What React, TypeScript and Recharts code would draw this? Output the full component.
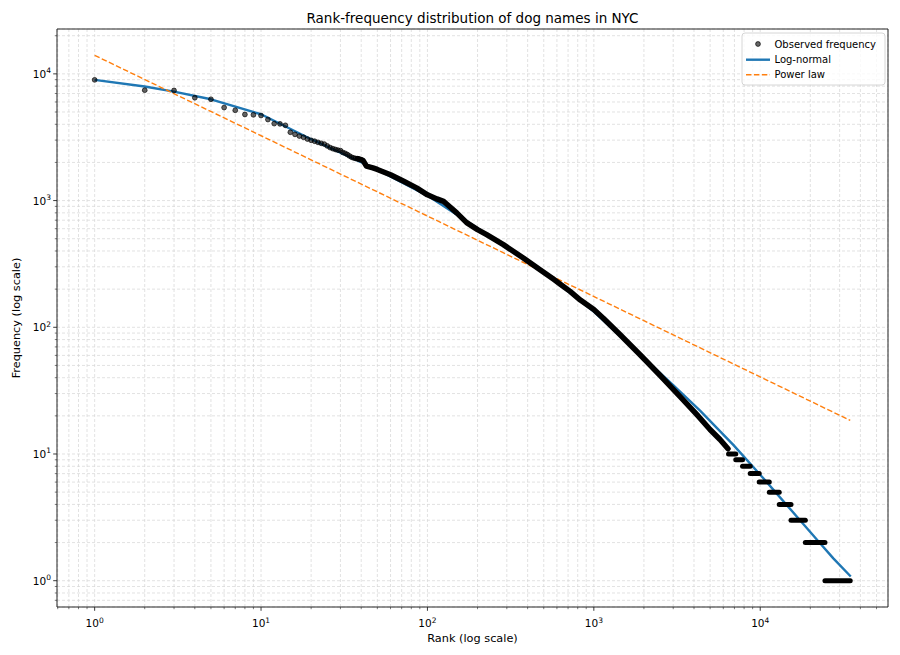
import {
  ComposedChart, XAxis, YAxis, CartesianGrid, Line, Scatter, ReferenceArea,
} from "recharts";

// ── Observed frequency: the sparse head, one dot per rank ─────────
const HEAD_RANKS = [
  1, 2, 3, 4, 5, 6, 7, 8, 9, 10, 11, 12, 13, 14, 15, 16, 17, 18, 19, 20,
  21, 22, 23, 24, 25, 26, 27, 28, 29, 30, 31, 32, 33, 34, 35, 36, 37, 38, 39, 40,
];
const HEAD_FREQ = [
  8970, 7430, 7400, 6480, 6300, 5420, 5160, 4780, 4750, 4690,
  4360, 4050, 4030, 3925, 3460, 3330, 3230, 3160, 3060, 2990,
  2940, 2880, 2830, 2790, 2700, 2620, 2570, 2530, 2500, 2480,
  2400, 2360, 2310, 2250, 2200, 2170, 2150, 2140, 2120, 2100,
];

// ── Observed frequency: dense middle, where the dots merge ────────
const BODY_RANKS = [
  38, 41, 43, 47, 50, 60, 72, 86, 100, 114, 125, 131, 150, 172, 200, 227,
  286, 377, 475, 571, 626, 720, 830, 1000, 1140, 1430, 1890, 2490, 3290,
  4150, 4990, 5730, 6400,
];
const BODY_FREQ = [
  2140, 2080, 1870, 1810, 1760, 1600, 1420, 1260, 1110, 1030, 985, 935, 800, 670, 590, 538,
  449, 352, 284, 240, 220, 192, 164, 138, 118, 88, 61, 42, 28.5,
  20.5, 15.6, 13, 11,
];

// ── Observed frequency: integer-count tail, runs of equal frequency ─
const TAIL_FREQ  = [10, 9, 8, 7, 6, 5, 4, 3, 2, 1];
const TAIL_FIRST = [6450, 7130, 7830, 8710, 9860, 11340, 13010, 15310, 18670, 24490];
const TAIL_LAST  = [7130, 7830, 8710, 9860, 11340, 13010, 15310, 18670, 24490, 34750];

// ── Fitted curves ─────────────────────────────────────────────────
const LOGNORM_RANKS = [
  1, 2, 3, 5, 10, 20, 50, 100, 200, 500, 1000, 2000, 3000, 4350, 5500, 6890,
  10940, 17340, 22340, 27500, 35000,
];
const LOGNORM_FREQ = [
  8970, 7950, 7250, 6300, 4800, 3050, 1750, 1095, 605, 272, 133, 57, 35, 22, 16, 11.8,
  6.0, 3.0, 2.05, 1.5, 1.08,
];
const POWER_RANKS = [1, 100, 34750];
const POWER_FREQ  = [14000, 755, 18.4];

// ── Axes ──────────────────────────────────────────────────────────
const X_DOMAIN: [number, number] = [0.594, 58600];
const Y_DOMAIN: [number, number] = [0.62, 22600];
const DECADES = [0.1, 1, 10, 100, 1000, 10000];
const MAJORS  = [1, 10, 100, 1000, 10000];
const STEPS   = [2, 3, 4, 5, 6, 7, 8, 9];

function minorTicks([lo, hi]: [number, number]) {
  const out: number[] = [];
  DECADES.forEach(d => STEPS.forEach(s => {
    const v = d * s;
    if (v >= lo && v <= hi) out.push(v);
  }));
  return out;
}
const X_TICKS = [...MAJORS, ...minorTicks(X_DOMAIN)].sort((a, b) => a - b);
const Y_TICKS = [...MAJORS, ...minorTicks(Y_DOMAIN)].sort((a, b) => a - b);

const zip = (rs: number[], fs: number[]) => rs.map((r, i) => ({ r, f: fs[i] }));
const HEAD    = zip(HEAD_RANKS, HEAD_FREQ);
const BODY    = zip(BODY_RANKS, BODY_FREQ);
const LOGNORM = zip(LOGNORM_RANKS, LOGNORM_FREQ);
const POWER   = zip(POWER_RANKS, POWER_FREQ);
const TAIL    = TAIL_FREQ.map((f, i) => [{ r: TAIL_FIRST[i], f }, { r: TAIL_LAST[i], f }]);

const FONT = "DejaVu Sans";
const INK = "#262626";

// ── Tick renderers (matplotlib-like 10^k labels) ──────────────────
const XTick = ({ x, y, payload }: any) => {
  const v = payload.value as number;
  const major = MAJORS.includes(v);
  return (
    <g>
      <line x1={x} y1={y} x2={x} y2={y + (major ? 3.8 : 2.2)} stroke={INK} strokeWidth={major ? 0.9 : 0.6} />
      {major && (
        <text x={x} y={y + 20} textAnchor="middle" fontSize={10.5} fontFamily={FONT} fill="#000">
          10<tspan dy={-4.5} fontSize={7.5}>{Math.round(Math.log10(v))}</tspan>
        </text>
      )}
    </g>
  );
};

const YTick = ({ x, y, payload }: any) => {
  const v = payload.value as number;
  const major = MAJORS.includes(v);
  return (
    <g>
      <line x1={x} y1={y} x2={x - (major ? 3.8 : 2.2)} y2={y} stroke={INK} strokeWidth={major ? 0.9 : 0.6} />
      {major && (
        <text x={x - 6} y={y + 4} textAnchor="end" fontSize={10.5} fontFamily={FONT} fill="#000">
          10<tspan dy={-4.5} fontSize={7.5}>{Math.round(Math.log10(v))}</tspan>
        </text>
      )}
    </g>
  );
};

const ObsDot = ({ cx, cy }: any) => (
  <circle cx={cx} cy={cy} r={2.4} fill="#000" fillOpacity={0.6}
    stroke="#000" strokeOpacity={0.75} strokeWidth={0.9} />
);

export default function App() {
  return (
    <div style={{ position: "absolute", left: 0, top: 0, width: 900, height: 655, background: "#fff", fontFamily: FONT }}>
      <ComposedChart width={900} height={655} margin={{ top: 29, right: 12, bottom: 0, left: 0 }}>
        <CartesianGrid stroke="#d6d6d6" strokeDasharray="3 2" strokeWidth={0.7} />
        <XAxis
          dataKey="r" type="number" scale="log" domain={X_DOMAIN} allowDataOverflow
          ticks={X_TICKS} interval={0} height={48}
          tick={XTick} tickLine={false} axisLine={false} tickSize={0} tickMargin={0}
        />
        <YAxis
          dataKey="f" type="number" scale="log" domain={Y_DOMAIN} allowDataOverflow
          ticks={Y_TICKS} interval={0} width={57}
          tick={YTick} tickLine={false} axisLine={false} tickSize={0} tickMargin={0}
        />
        <Line data={LOGNORM} dataKey="f" type="linear" stroke="#1f77b4" strokeWidth={2.4}
          strokeLinejoin="round" dot={false} activeDot={false} isAnimationActive={false} />
        <Line data={POWER} dataKey="f" type="linear" stroke="#ff7f0e" strokeWidth={1.4}
          strokeDasharray="5.5 2.4" dot={false} activeDot={false} isAnimationActive={false} />
        <Line data={BODY} dataKey="f" type="linear" stroke="#000" strokeWidth={5.5}
          strokeLinecap="round" strokeLinejoin="round"
          dot={false} activeDot={false} isAnimationActive={false} />
        {TAIL.map((run, i) => (
          <Line key={i} data={run} dataKey="f" type="linear" stroke="#000" strokeWidth={5}
            strokeLinecap="round" dot={false} activeDot={false} isAnimationActive={false} />
        ))}
        <Scatter data={HEAD} shape={ObsDot} isAnimationActive={false} />
        <ReferenceArea x1={X_DOMAIN[0]} x2={X_DOMAIN[1]} y1={Y_DOMAIN[0]} y2={Y_DOMAIN[1]}
          fill="none" fillOpacity={0} stroke={INK} strokeWidth={1} />
      </ComposedChart>

      {/* titles, axis labels and legend */}
      <svg width={900} height={655} style={{ position: "absolute", left: 0, top: 0, pointerEvents: "none" }}>
        <text x={472.5} y={23} textAnchor="middle" fontSize={13.5} fontFamily={FONT} fill="#000">
          Rank-frequency distribution of dog names in NYC
        </text>
        <text x={472.5} y={642} textAnchor="middle" fontSize={11.3} fontFamily={FONT} fill="#000">
          Rank (log scale)
        </text>
        <text transform="translate(20,318) rotate(-90)" textAnchor="middle" fontSize={11.3} fontFamily={FONT} fill="#000">
          Frequency (log scale)
        </text>

        <rect x={742} y={33} width={143} height={52} rx={3} fill="#fff" fillOpacity={0.8} stroke="#cccccc" strokeWidth={0.8} />
        <circle cx={758} cy={44} r={2.4} fill="#000" fillOpacity={0.6} stroke="#000" strokeOpacity={0.75} strokeWidth={0.9} />
        <text x={774.5} y={47.5} fontSize={10} fontFamily={FONT} fill="#000">Observed frequency</text>
        <line x1={746} y1={59.7} x2={770} y2={59.7} stroke="#1f77b4" strokeWidth={2.4} />
        <text x={774.5} y={63.2} fontSize={10} fontFamily={FONT} fill="#000">Log-normal</text>
        <line x1={746} y1={74.7} x2={770} y2={74.7} stroke="#ff7f0e" strokeWidth={1.4} strokeDasharray="5.5 2.4" />
        <text x={774.5} y={78.2} fontSize={10} fontFamily={FONT} fill="#000">Power law</text>
      </svg>
    </div>
  );
}
